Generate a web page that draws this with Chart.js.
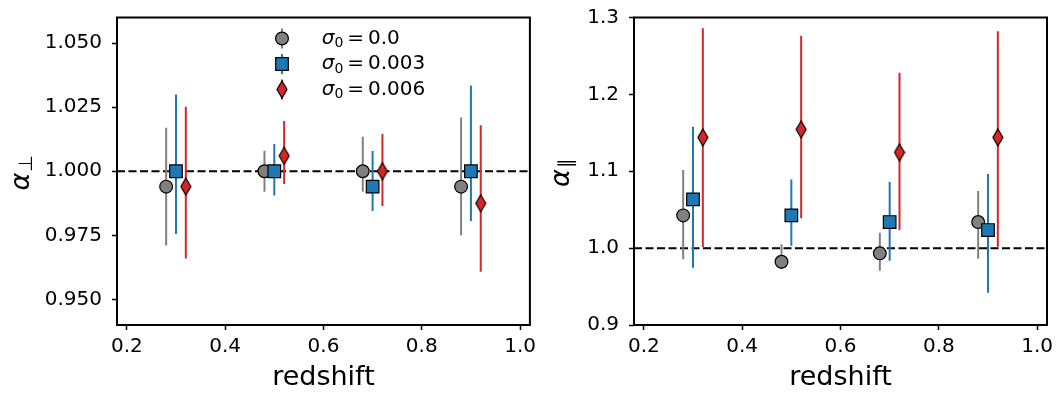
<!DOCTYPE html>
<html><head><meta charset="utf-8">
<script src="https://cdn.jsdelivr.net/npm/chart.js@4/dist/chart.umd.min.js"></script>
<style>
html,body{margin:0;padding:0;background:#fff;}
#wrap{position:relative;width:1064px;height:399px;overflow:hidden;}
.panel{position:absolute;top:0;height:399px;}
canvas{display:block;}
</style></head><body>
<div id="wrap">
<div class="panel" style="left:0;width:540px"><canvas id="c1" width="540" height="399"></canvas></div>
<div class="panel" style="left:540px;width:524px"><canvas id="c2" width="524" height="399"></canvas></div>
</div>
<script>
// ---------- data ----------
const seriesNames = ['0.0', '0.003', '0.006'];
const xTicks = [0.2, 0.4, 0.6, 0.8, 1.0];
const perpTicks = [0.95, 0.975, 1.0, 1.025, 1.05];
const parTicks = [0.9, 1.0, 1.1, 1.2, 1.3];

const z0 = [0.28, 0.48, 0.68, 0.88];
const z3 = [0.30, 0.50, 0.70, 0.90];
const z6 = [0.32, 0.52, 0.72, 0.92];

const perp0 = [0.994, 1.000, 1.000, 0.994];
const perp0Lo = [0.971, 0.992, 0.992, 0.975];
const perp0Hi = [1.017, 1.008, 1.0135, 1.021];
const perp3 = [1.000, 1.000, 0.994, 1.000];
const perp3Lo = [0.9755, 0.9905, 0.9845, 0.9806];
const perp3Hi = [1.030, 1.0106, 1.0079, 1.0335];
const perp6 = [0.994, 1.006, 1.000, 0.9875];
const perp6Lo = [0.966, 0.995, 0.9864, 0.9608];
const perp6Hi = [1.0252, 1.0196, 1.0145, 1.018];

const par0 = [1.0426, 0.9823, 0.9932, 1.0339];
const par0Lo = [0.9854, 0.9724, 0.9706, 0.9862];
const par0Hi = [1.1015, 1.0049, 1.020, 1.0742];
const par3 = [1.0634, 1.0426, 1.0339, 1.0235];
const par3Lo = [0.9745, 1.003, 0.9836, 0.942];
const par3Hi = [1.1578, 1.0894, 1.0859, 1.0963];
const par6 = [1.144, 1.1544, 1.1245, 1.144];
const par6Lo = [1.0014, 1.039, 1.0235, 1.0018];
const par6Hi = [1.286, 1.2761, 1.228, 1.2822];

const refLine = 1.0;
const xMin = 0.18, xMax = 1.02;

// ---------- styles ----------
const FONT = "'DejaVu Sans', sans-serif";
const colGray = '#808080', colBlue = '#1f77b4', colRed = '#d62728';

function makeDiamond() {
  const c = document.createElement('canvas');
  c.width = 12; c.height = 19;
  const g = c.getContext('2d');
  g.beginPath();
  g.moveTo(6, 1); g.lineTo(11, 9.5); g.lineTo(6, 18); g.lineTo(1, 9.5); g.closePath();
  g.fillStyle = colRed; g.fill();
  g.lineWidth = 1.2; g.strokeStyle = '#000'; g.stroke();
  return c;
}
const diamond = makeDiamond();

const markerStyles = [
  {pointStyle: 'circle', radius: 6.4, color: colGray},
  {pointStyle: 'rect', radius: 8.9, color: colBlue},
  {pointStyle: diamond, radius: 8, color: colRed}
];

function pts(xs, ys) { return xs.map((x, i) => ({x: x, y: ys[i]})); }

const errPlugin = {
  id: 'errbars',
  beforeDatasetDraw(chart, args) {
    const ds = chart.data.datasets[args.index];
    if (!ds.errLo) return;
    const ctx = chart.ctx, xs = chart.scales.x, ys = chart.scales.y, a = chart.chartArea;
    ctx.save();
    ctx.beginPath(); ctx.rect(a.left, a.top, a.right - a.left, a.bottom - a.top); ctx.clip();
    ctx.strokeStyle = ds.errColor; ctx.lineWidth = 2;
    ds.data.forEach((p, i) => {
      const px = xs.getPixelForValue(p.x);
      ctx.beginPath();
      ctx.moveTo(px, ys.getPixelForValue(ds.errLo[i]));
      ctx.lineTo(px, ys.getPixelForValue(ds.errHi[i]));
      ctx.stroke();
    });
    ctx.restore();
  }
};

const framePlugin = {
  id: 'frame',
  afterDraw(chart) {
    const ctx = chart.ctx, a = chart.chartArea;
    ctx.save();
    ctx.strokeStyle = '#000'; ctx.lineWidth = 2;
    ctx.strokeRect(a.left, a.top, a.right - a.left, a.bottom - a.top);
    // y label
    const o = chart.options.plugins.ylab;
    ctx.translate(o.x, (a.top + a.bottom) / 2 + 2);
    ctx.rotate(-Math.PI / 2);
    ctx.fillStyle = '#000';
    ctx.textBaseline = 'middle';
    ctx.font = 'oblique 27px ' + FONT;
    const w1 = ctx.measureText('α').width;
    ctx.font = '19px ' + FONT;
    const w2 = ctx.measureText(o.sub).width;
    const start = -(w1 + w2) / 2;
    ctx.font = 'oblique 27px ' + FONT;
    ctx.textAlign = 'left';
    ctx.fillText('α', start, 0);
    ctx.font = '19px ' + FONT;
    ctx.fillText(o.sub, start + w1 + 1, 5);
    ctx.restore();
  }
};

const legendPlugin = {
  id: 'customLegend',
  afterDraw(chart) {
    const o = chart.options.plugins.customLegend;
    if (!o || !o.show) return;
    const ctx = chart.ctx;
    const rowsY = [38.5, 64, 89.5];
    const mx = 282, tx = 321.7;
    ctx.save();
    seriesNames.forEach((name, i) => {
      const m = markerStyles[i], y = rowsY[i];
      ctx.strokeStyle = m.color; ctx.lineWidth = 2;
      ctx.beginPath(); ctx.moveTo(mx, y - 10); ctx.lineTo(mx, y + 10); ctx.stroke();
      ctx.fillStyle = m.color; ctx.strokeStyle = '#000'; ctx.lineWidth = 1.2;
      Chart.helpers.drawPoint(ctx, {pointStyle: m.pointStyle, radius: m.radius, rotation: 0, borderWidth: 1.2}, mx, y);
      ctx.fillStyle = '#000';
      ctx.textBaseline = 'middle'; ctx.textAlign = 'left';
      let x = tx;
      ctx.font = 'oblique 20px ' + FONT;
      ctx.fillText('σ', x, y);
      x += ctx.measureText('σ').width;
      ctx.font = '14px ' + FONT;
      ctx.fillText('0', x, y + 5);
      x += ctx.measureText('0').width + 4;
      ctx.font = '20px ' + FONT;
      ctx.fillText('=', x, y);
      x += ctx.measureText('=').width + 4;
      ctx.fillText(name, x, y);
    });
    ctx.restore();
  }
};

function makePanel(id, cfg) {
  const datasets = [
    {type: 'line', data: [{x: xMin, y: refLine}, {x: xMax, y: refLine}], borderColor: '#000',
     borderWidth: 2, borderDash: [8, 3.5], pointRadius: 0, order: 10, fill: false},
  ];
  cfg.series.forEach((s, i) => {
    const m = markerStyles[i];
    datasets.push({type: 'scatter', data: pts(s.x, s.y), errLo: s.lo, errHi: s.hi, errColor: m.color,
      pointStyle: m.pointStyle, pointRadius: m.radius, pointHoverRadius: m.radius,
      backgroundColor: m.color, borderColor: '#000', borderWidth: 1.2, order: 3 - i});
  });
  return new Chart(document.getElementById(id), {
    data: {datasets},
    plugins: [errPlugin, framePlugin, legendPlugin],
    options: {
      responsive: false, animation: false, devicePixelRatio: 1,
      layout: {padding: {left: 0, top: 17.5, right: cfg.padRight, bottom: 0}},
      plugins: {legend: {display: false}, tooltip: {enabled: false},
                ylab: {x: cfg.ylabX, sub: cfg.sub}, customLegend: {show: cfg.legend}},
      scales: {
        x: {type: 'linear', min: xMin, max: xMax,
            afterBuildTicks: s => { s.ticks = xTicks.map(v => ({value: v})); },
            afterFit: s => { s.height = 74; s.paddingLeft = 0; s.paddingRight = 0; },
            ticks: {font: {family: FONT, size: 20}, color: '#000', padding: 5, maxRotation: 0,
                    callback: v => Number(v).toFixed(1)},
            grid: {drawOnChartArea: false, drawTicks: true, tickLength: 5, tickColor: '#000', tickWidth: 1.5},
            border: {display: false},
            title: {display: true, text: 'redshift', color: '#000', font: {family: FONT, size: 27},
                    padding: {top: 0, bottom: 5}}},
        y: {type: 'linear', min: cfg.yMin, max: cfg.yMax,
            afterBuildTicks: s => { s.ticks = cfg.yTicks.map(v => ({value: v})); },
            afterFit: s => { s.width = cfg.yWidth; s.paddingTop = 0; s.paddingBottom = 0; },
            ticks: {font: {family: FONT, size: 20}, color: '#000', padding: 10,
                    callback: v => Number(v).toFixed(cfg.dec)},
            grid: {drawOnChartArea: false, drawTicks: true, tickLength: 5, tickColor: '#000', tickWidth: 1.5},
            border: {display: false}}
      }
    }
  });
}

makePanel('c1', {
  yMin: 0.94, yMax: 1.06, yTicks: perpTicks, dec: 3, yWidth: 117, padRight: 10,
  ylabX: 22, sub: '⊥', legend: true,
  series: [
    {x: z0, y: perp0, lo: perp0Lo, hi: perp0Hi},
    {x: z3, y: perp3, lo: perp3Lo, hi: perp3Hi},
    {x: z6, y: perp6, lo: perp6Lo, hi: perp6Hi}
  ]
});
makePanel('c2', {
  yMin: 0.9, yMax: 1.3, yTicks: parTicks, dec: 1, yWidth: 94, padRight: 17,
  ylabX: 22, sub: '∥', legend: false,
  series: [
    {x: z0, y: par0, lo: par0Lo, hi: par0Hi},
    {x: z3, y: par3, lo: par3Lo, hi: par3Hi},
    {x: z6, y: par6, lo: par6Lo, hi: par6Hi}
  ]
});
</script>
</body></html>
